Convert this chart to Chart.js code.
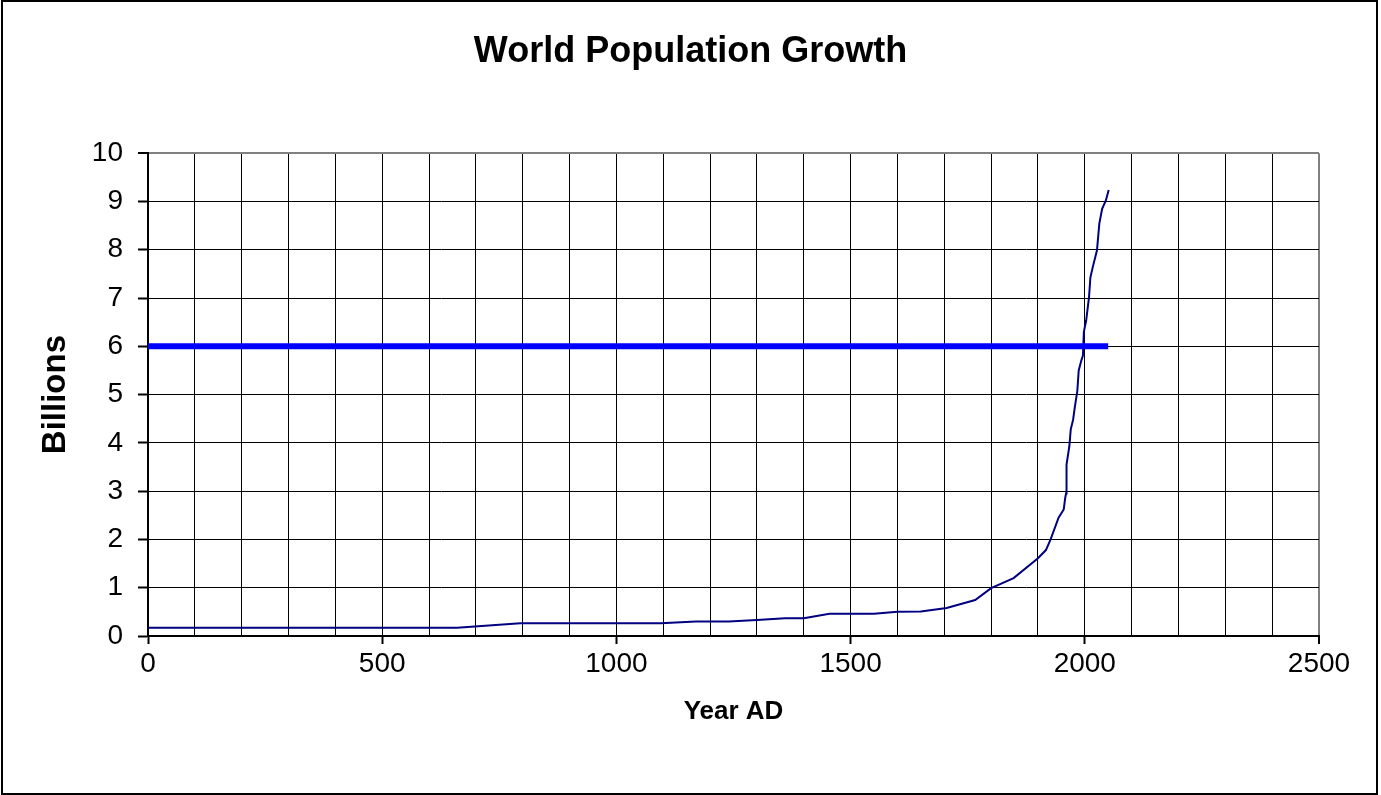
<!DOCTYPE html>
<html>
<head>
<meta charset="utf-8">
<title>World Population Growth</title>
<script src="https://cdn.jsdelivr.net/npm/chart.js@4/dist/chart.umd.min.js"></script>
<style>
  html, body { margin: 0; padding: 0; background: #fff; }
  #wrap { width: 1381px; height: 795px; position: relative; }
</style>
</head>
<body>
<div id="wrap"><canvas id="chart"></canvas></div>
<script>
// values (year AD, billions)
const years = [0, 660, 795, 1095, 1170, 1240, 1300, 1360, 1400, 1455, 1550, 1600, 1650, 1705, 1766,
  1800, 1848, 1900, 1917, 1927, 1944, 1955, 1958, 1960, 1961, 1967, 1970, 1975, 1979, 1984, 1987,
  1993, 1996, 1998, 2003, 2009, 2012, 2017, 2026, 2031, 2037, 2045, 2051]
const billions = [0.17, 0.17, 0.265, 0.265, 0.30, 0.30, 0.33, 0.37, 0.37, 0.46, 0.46, 0.50, 0.51, 0.58, 0.745,
  0.99, 1.2, 1.61, 1.78, 2.0, 2.45, 2.62, 2.85, 2.95, 3.55, 3.93, 4.28, 4.48, 4.76, 5.07, 5.5,
  5.72, 5.81, 6.3, 6.54, 7.02, 7.43, 7.64, 7.99, 8.54, 8.85, 9.02, 9.24]

// the thick 6 billion marker line
const markerYears = [0, 2050]
const markerValue = [6, 6]

const xTicks = { min: 0, max: 2500, step: 100, labelEvery: 500 }
const yTicks = { min: 0, max: 10, step: 1 }

Chart.defaults.font.family = "'Liberation Sans', Arial, sans-serif"
Chart.defaults.color = "#000"

// white page with the thin black frame round it
const framePlugin = {
  id: "frame",
  beforeDraw(chart) {
    const ctx = chart.ctx
    ctx.save()
    ctx.fillStyle = "#fff"
    ctx.fillRect(0, 0, chart.width, chart.height)
    ctx.restore()
  },
  afterDraw(chart) {
    const ctx = chart.ctx
    ctx.save()
    ctx.strokeStyle = "#000"
    ctx.lineWidth = 2
    ctx.strokeRect(2, 1, 1375, 793)
    ctx.restore()
  }
}

const ctx = document.getElementById("chart").getContext("2d")

new Chart(ctx, {
  type: "line",
  data: {
    datasets: [
      {
        label: "6 billion",
        data: markerYears.map((x, i) => ({ x, y: markerValue[i] })),
        borderColor: "#0000ff",
        borderWidth: 6,
        borderCapStyle: "butt",
        pointRadius: 0,
        order: 0
      },
      {
        label: "Population",
        data: years.map((x, i) => ({ x, y: billions[i] })),
        borderColor: "#000080",
        borderWidth: 2,
        pointRadius: 0,
        tension: 0,
        order: 1
      }
    ]
  },
  options: {
    responsive: true,
    maintainAspectRatio: false,
    animation: false,
    layout: {
      padding: 0
    },
    plugins: {
      legend: { display: false },
      tooltip: { enabled: false },
      title: {
        display: true,
        text: "World Population Growth",
        font: { size: 36, weight: "bold" },
        color: "#000",
        padding: { top: 30, bottom: 80 }
      }
    },
    scales: {
      x: {
        type: "linear",
        min: xTicks.min,
        max: xTicks.max,
        afterFit(scale) { scale.height = 159 },
        border: { color: "#000", width: 2 },
        grid: {
          color: c => c.tick && c.tick.value === xTicks.max ? "#808080" : "#000",
          lineWidth: c => c.tick && c.tick.value === xTicks.max ? 2 : 1,
          tickLength: 8,
          tickColor: c => c.tick && c.tick.value % xTicks.labelEvery === 0 ? "#000" : "rgba(0,0,0,0)",
          tickWidth: 2
        },
        ticks: {
          stepSize: xTicks.step,
          autoSkip: false,
          maxRotation: 0,
          padding: 3,
          font: { size: 28 },
          callback: v => v % xTicks.labelEvery === 0 ? v : ""
        },
        title: {
          display: true,
          text: "Year AD",
          font: { size: 26, weight: "bold" },
          padding: { top: 0, bottom: 68 }
        }
      },
      y: {
        min: yTicks.min,
        max: yTicks.max,
        afterFit(scale) { scale.width = 148 },
        border: { color: "#000", width: 2 },
        grid: {
          color: c => c.tick && c.tick.value === yTicks.max ? "#808080" : "#000",
          lineWidth: c => c.tick && c.tick.value === yTicks.max ? 2 : 1,
          tickLength: 10,
          tickColor: "#000",
          tickWidth: 2
        },
        ticks: {
          stepSize: yTicks.step,
          padding: 15,
          font: { size: 28 }
        },
        title: {
          display: true,
          text: "Billions",
          font: { size: 33, weight: "bold" },
          padding: { top: 36, bottom: 0 }
        }
      },
      // empty right-hand box so the plot stops where the reference does
      // while the title stays centred on the whole picture
      gap: {
        axis: "y",
        position: "right",
        display: true,
        afterFit(scale) { scale.width = 62 },
        border: { display: false },
        grid: { display: false },
        ticks: { display: false }
      }
    }
  },
  plugins: [framePlugin]
})
</script>
</body>
</html>
